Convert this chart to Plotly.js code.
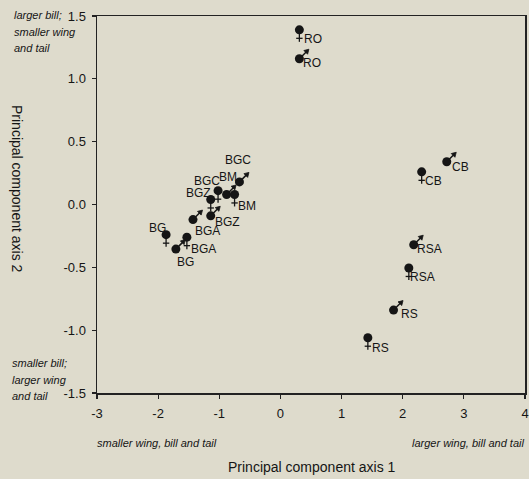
<!DOCTYPE html>
<html>
<head>
<meta charset="utf-8">
<script src="https://cdn.plot.ly/plotly-3.0.1.min.js"></script>
<style>
html,body{margin:0;padding:0;background:#dedbcc;}
#chart{width:529px;height:479px;}
</style>
</head>
<body>
<div id="chart"></div>
<script>
// ---- data ----
const labels = ["RO","RO","CB","CB","RSA","RSA","RS","RS","BGC","BM","BM","BGC","BGZ","BGZ","BGA","BGA","BG","BG"];
const sex    = ["f","m","m","f","m","f","m","f","m","m","f","f","f","m","m","f","f","m"];
const pc1    = [0.31,0.31,2.72,2.31,2.18,2.10,1.85,1.43,-0.67,-0.88,-0.75,-1.02,-1.14,-1.14,-1.43,-1.53,-1.87,-1.71];
const pc2    = [1.39,1.16,0.34,0.26,-0.32,-0.505,-0.84,-1.06,0.18,0.08,0.08,0.11,0.04,-0.09,-0.12,-0.26,-0.24,-0.355];
const xTicks = [-3,-2,-1,0,1,2,3,4];
const yTicks = [-1.5,-1.0,-0.5,0.0,0.5,1.0,1.5];
const yTickText = ["-1.5","-1.0","-0.5","0.0","0.5","1.0","1.5"];

// ---- label placement (pixel offsets of label centre from the dot; down positive) ----
const labelDx = [14,13,14,12,16,14,16,13,-1,1,12,-11,-12,17,15,17,-9,10];
const labelDy = [9,4,5,9,4,9,4,10,-22,-17,12,-10,-6,6,11,12,-7,13];

const W = 529, H = 479;
const M = {l:97, r:4, t:16, b:86};
const pw = W - M.l - M.r, ph = H - M.t - M.b;
const px2x = p => (p - M.l) / pw;
const py2y = p => (H - M.b - p) / ph;

const ink = '#151515';
const shapes = [];
for (let i = 0; i < pc1.length; i++) {
  const base = {xref:'x', yref:'y', xsizemode:'pixel', ysizemode:'pixel', xanchor:pc1[i], yanchor:pc2[i]};
  if (sex[i] === 'f') {
    shapes.push(Object.assign({}, base, {type:'line', x0:0, x1:0, y0:-3, y1:-12, line:{color:ink, width:1.3}}));
    shapes.push(Object.assign({}, base, {type:'line', x0:-3.2, x1:3.2, y0:-8.5, y1:-8.5, line:{color:ink, width:1.3}}));
  } else {
    shapes.push(Object.assign({}, base, {type:'line', x0:2, x1:7, y0:2, y1:7, line:{color:ink, width:1.5}}));
    shapes.push(Object.assign({}, base, {type:'path', path:'M 9.5 9.5 L 4.5 8.2 L 8.2 4.5 Z', fillcolor:ink, line:{color:ink, width:0.8}}));
  }
}

const annotations = [];
for (let i = 0; i < pc1.length; i++) {
  annotations.push({x:pc1[i], y:pc2[i], xref:'x', yref:'y', text:labels[i], showarrow:false,
    xanchor:'center', yanchor:'middle', xshift:labelDx[i], yshift:-labelDy[i],
    font:{family:'Liberation Sans, Arial, sans-serif', size:12, color:ink}});
}
const it = {family:'Liberation Sans, Arial, sans-serif', size:11, color:ink, style:'italic'};
function note(text, px, py, anchor) {
  annotations.push({xref:'paper', yref:'paper', x:px2x(px), y:py2y(py), text:text, showarrow:false,
    xanchor:anchor, yanchor:'middle', font:it});
}
note('larger bill;', 12, 15, 'left');
note('smaller wing', 12, 32, 'left');
note('and tail', 12, 48, 'left');
note('smaller bill;', 10, 363, 'left');
note('larger wing', 10, 380, 'left');
note('and tail', 10, 396, 'left');
note('smaller wing, bill and tail', 95, 443, 'left');
note('larger wing, bill and tail', 526, 443, 'right');
annotations.push({xref:'paper', yref:'paper', x:px2x(312), y:py2y(467), text:'Principal component axis 1',
  showarrow:false, xanchor:'center', yanchor:'middle',
  font:{family:'Liberation Sans, Arial, sans-serif', size:14, color:ink}});
annotations.push({xref:'paper', yref:'paper', x:px2x(17), y:py2y(189), text:'Principal component axis 2',
  showarrow:false, xanchor:'center', yanchor:'middle', textangle:90,
  font:{family:'Liberation Sans, Arial, sans-serif', size:14, color:ink}});

const trace = {x:pc1, y:pc2, mode:'markers', type:'scatter', hoverinfo:'skip', cliponaxis:false,
  marker:{symbol:'circle', size:9, color:ink, line:{width:0}}};

const axisCommon = {showline:true, mirror:true, linecolor:'#222', linewidth:1.5, showgrid:false, zeroline:false,
  ticks:'outside', ticklen:4, tickwidth:1.2, tickcolor:'#222', ticklabeloverflow:'allow',
  tickfont:{family:'Liberation Sans, Arial, sans-serif', size:13, color:ink}};

const layout = {
  width:W, height:H, margin:M, paper_bgcolor:'#dedbcc', plot_bgcolor:'#dedbcc', showlegend:false,
  xaxis:Object.assign({}, axisCommon, {range:[-3,4], tickvals:xTicks, ticktext:xTicks.map(String), ticklabelstandoff:4}),
  yaxis:Object.assign({}, axisCommon, {range:[-1.5,1.5], tickvals:yTicks, ticktext:yTickText, ticklabelstandoff:3}),
  shapes:shapes, annotations:annotations
};
Plotly.newPlot('chart', [trace], layout, {staticPlot:true});
</script>
</body>
</html>
